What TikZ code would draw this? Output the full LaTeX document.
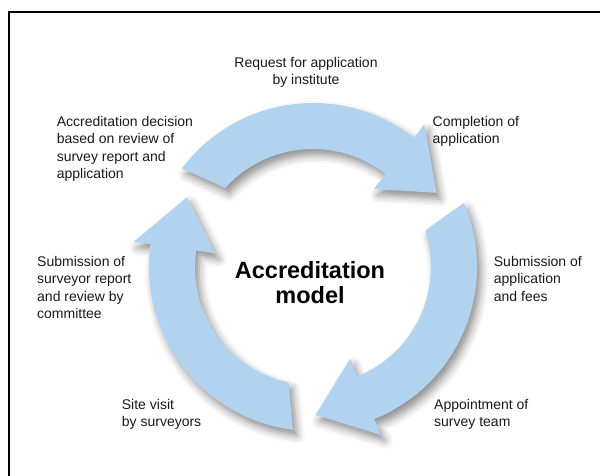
\documentclass[tikz,border=0pt]{standalone}
\usepackage{fontspec}
\setmainfont{Liberation Sans}
\usepackage{tikz}
\usetikzlibrary{shadows.blur}
\definecolor{arrowblue}{RGB}{178,211,239}
\tikzstyle{lbl} = [inner sep=0,align=left,anchor=north west,text=black!90,font=\fontsize{14}{17.5}\selectfont]
\tikzstyle{cyc} = [fill=arrowblue,blur shadow={shadow xshift=4pt,shadow yshift=-6pt,shadow blur radius=8pt,shadow opacity=45}]

\begin{document}
\begin{tikzpicture}[x=1pt,y=-1pt,frame/.style={line width=1.5pt}]
    \useasboundingbox (0,0) rectangle (600,475);
    \draw[frame] (9,476) -- (9,12) -- (601,12);

    % the three arrows of the cycle
    \begin{scope}[shift={(313,267)},y=1pt]
    \fill[cyc] (143:164) arc[start angle=143,end angle=52,radius=164]
        -- (52:181) -- (31:144) -- (52:99) -- (52:118)
        arc[start angle=52,end angle=138,radius=118] -- cycle;
    \fill[cyc] (23:164) arc[start angle=23,end angle=-68,radius=164]
        -- (-68:181) -- (-89:148) -- (-68:99) -- (-68:118)
        arc[start angle=-68,end angle=18,radius=118] -- cycle;
    \fill[cyc] (263:164) arc[start angle=263,end angle=172,radius=164]
        -- (172:181) -- (151:144) -- (172:99) -- (172:118)
        arc[start angle=172,end angle=258,radius=118] -- cycle;
    \end{scope}

    \node[font=\fontsize{23.5}{25}\selectfont\bfseries,align=center,inner sep=0] (title) at (310,282.5) {Accreditation\\model};

    \node[lbl,anchor=north,align=center] (req) at (306,57) {Request for application\\by institute};
    \node[lbl] (comp) at (432.5,115.7) {Completion of\\application};
    \node[lbl] (subapp) at (493.7,255.7) {Submission of\\application\\and fees};
    \node[lbl] (appt) at (434,399) {Appointment of\\survey team};
    \node[lbl] (site) at (121.7,399) {Site visit\\by surveyors};
    \node[lbl] (subrep) at (37,255.7) {Submission of\\surveyor report\\and review by\\committee};
    \node[lbl] (dec) at (56.6,115.7) {Accreditation decision\\based on review of\\survey report and\\application};

\end{tikzpicture}
\end{document}
